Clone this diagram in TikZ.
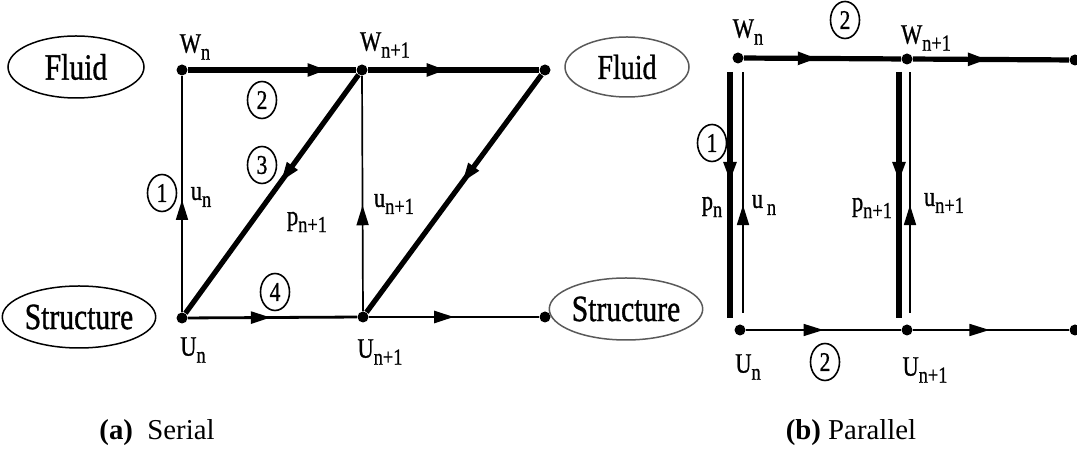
\documentclass[tikz,border=0pt]{standalone}
\usepackage{fontspec}
\setmainfont{Liberation Serif}[FakeStretch=0.8, FakeBold=0.9]
\newfontfamily\capfont{Liberation Serif}
\usetikzlibrary{arrows.meta,shapes.geometric,decorations.markings}
\newcommand\low[1]{\raisebox{-0.55ex}{\fontsize{11.5}{11.5}\selectfont#1}}

\begin{document}
\begin{tikzpicture}[x=0.5pt, y=-0.5pt,
  dot/.style={circle, fill, inner sep=0pt, minimum size=5.5pt},
  phase/.style={ellipse, draw, line width=0.75pt, inner sep=0pt, font=\fontsize{18.5}{18.5}\selectfont},
  num/.style={ellipse, draw, line width=0.8pt, inner sep=0pt,
    minimum width=14.5pt, minimum height=18.5pt, font=\fontsize{13.5}{13.5}\selectfont},
  var/.style={inner sep=0pt, font=\fontsize{14}{14}\selectfont},
  subcap/.style={inner sep=0pt, font=\capfont\fontsize{14.4}{14.4}\selectfont},
  heavy/.style={line width=2.6pt},
  medium/.style={line width=1.4pt},
  light/.style={line width=0.85pt},
  tipat/.style={postaction={decorate}, decoration={markings,
    mark=at position #1 with {\arrow{Triangle[length=10pt,width=6pt]}}}}
]
\useasboundingbox (0,0) rectangle (1077,453);

% (a) serial
\node[phase, minimum width=68pt, minimum height=31pt] (fluidA) at (76,67) {Fluid};
\node[phase, minimum width=67pt, minimum height=31pt] (structA) at (79,317) {Structure};

\node[dot] (wn)   at (182,70) {};
\node[dot] (wn1)  at (362,70) {};
\node[dot] (wend) at (545,70) {};
\node[dot] (un)   at (182,318) {};
\node[dot] (un1)  at (363,317) {};
\node[dot] (uend) at (545,317) {};

\draw[heavy, tipat=0.83] (wn) -- (wn1);
\draw[heavy, tipat=0.46] (wn1) -- (wend);
\draw[light, tipat=0.475] (un) -- (wn);
\draw[light, tipat=0.45] (un1) -- (wn1);
\draw[heavy, tipat=0.45] (wn1) -- (un);
\draw[heavy, tipat=0.455] (wend) -- (un1);
\draw[medium, tipat=0.49] (un) -- (un1);
\draw[medium, tipat=0.50] (un1) -- (uend);

\node[var] (lwn)  at (195,47)  {W\low{n}};
\node[var] (lwn1) at (385,45)  {W\low{n+1}};
\node[var] (lun)  at (193,350) {U\low{n}};
\node[var] (lun1) at (380,352) {U\low{n+1}};
\node[var] (lu)   at (201,197) {u\low{n}};
\node[var] (lu1)  at (394,204) {u\low{n+1}};
\node[var] (lp1)  at (307,222) {p\low{n+1}};

\node[num] (s1) at (162,193) {1};
\node[num] (s2) at (262,100) {2};
\node[num] (s3) at (262,165) {3};
\node[num] (s4) at (275,292) {4};

\node[subcap] (capA) at (157,433) {\textbf{(a)}\ \ Serial};

% (b) parallel
\node[phase, draw=black!65, minimum width=62pt, minimum height=30pt, font=\fontsize{17.5}{17.5}\selectfont] (fluidB) at (627,67) {Fluid};
\node[phase, draw=black!65, minimum width=62pt, minimum height=31pt] (structB) at (626,309) {Structure};

\node[dot] (pwn)   at (738,58) {};
\node[dot] (pwn1)  at (907,59) {};
\node[dot] (pwend) at (1075,60) {};
\node[dot] (pun)   at (740,330) {};
\node[dot] (pun1)  at (907,330) {};
\node[dot] (puend) at (1075,330) {};

\draw[heavy, tipat=0.47] (pwn) -- (pwn1);
\draw[heavy, tipat=0.48] (pwn1) -- (pwend);
\draw[light, tipat=0.50] (pun) -- (pun1);
\draw[light, tipat=0.49] (pun1) -- (puend);

\coordinate (pnA) at (730,72);  \coordinate (pnB) at (730,318);
\coordinate (unA) at (743,72);  \coordinate (unB) at (743,313);
\coordinate (pmA) at (899,72);  \coordinate (pmB) at (899,318);
\coordinate (umA) at (910,72);  \coordinate (umB) at (910,313);
\draw[heavy, tipat=0.447] (pnA) -- (pnB);
\draw[light, tipat=0.448] (unB) -- (unA);
\draw[heavy, tipat=0.447] (pmA) -- (pmB);
\draw[light, tipat=0.448] (umB) -- (umA);

\node[var] (mwn)  at (748,32)  {W\low{n}};
\node[var] (mwn1) at (926,38)  {W\low{n+1}};
\node[var] (mun)  at (748,367) {U\low{n}};
\node[var] (mun1) at (925,370) {U\low{n+1}};
\node[var] (mpn)  at (712,207) {p\low{n}};
\node[var] (mun0) at (764,205) {u\low{\,n}};
\node[var] (mpn1) at (872,208) {p\low{n+1}};
\node[var] (mu1)  at (944,203) {u\low{n+1}};

\node[num] (t1) at (712,143) {1};
\node[num] (t2) at (845,20)  {2};
\node[num] (t3) at (825,362) {2};

\node[subcap] (capB) at (851,433) {\textbf{(b)}\ Parallel};
\end{tikzpicture}
\end{document}
